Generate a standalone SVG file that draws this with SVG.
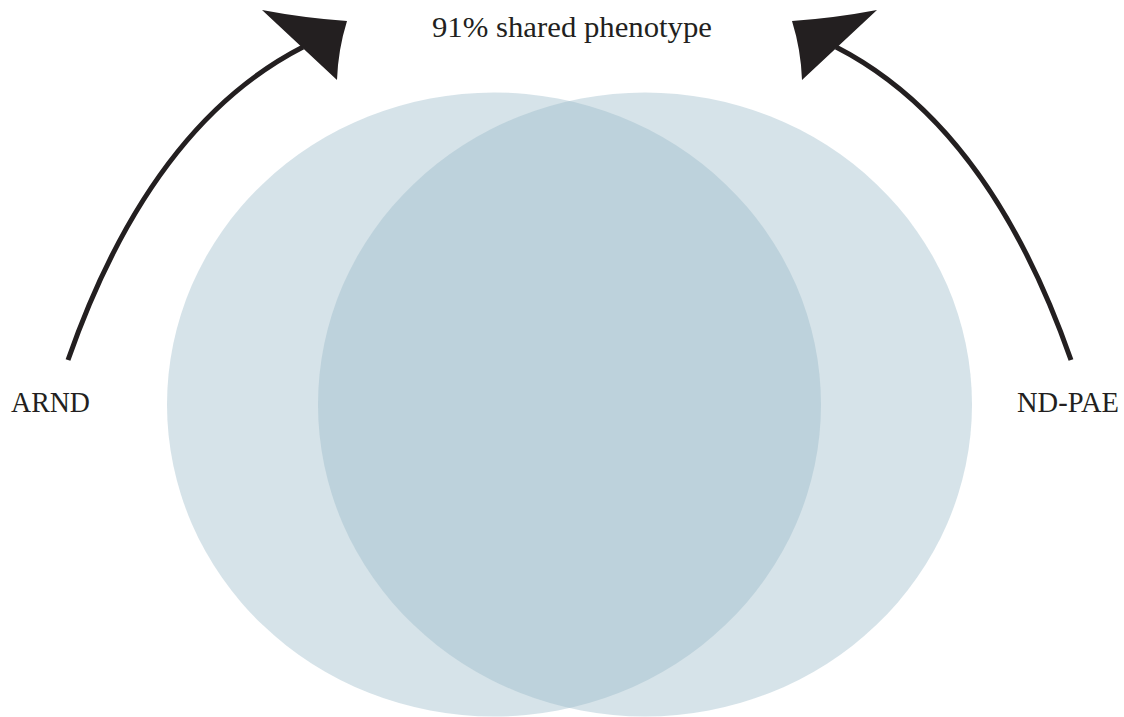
<svg xmlns="http://www.w3.org/2000/svg" width="1124" height="717" viewBox="0 0 1124 717">
  <style>
    .set { fill: #98b9c8; fill-opacity: 0.4; }
    .lbl { font-family: "Liberation Serif", "DejaVu Serif", serif; font-size: 29px; fill: #231f20; }
    .shaft { fill: none; stroke: #231f20; stroke-width: 5; }
    .head { fill: #231f20; }
  </style>
  <defs>
    <g id="arrow">
      <path class="shaft" d="M68,360 C110,240 180,110 303,47"/>
      <path class="head" d="M262,10 Q304,18 347,21 Q338,50 337,80 Z"/>
    </g>
  </defs>
  <rect width="1124" height="717" fill="#ffffff"/>
  <g id="set-arnd">
    <ellipse class="set" cx="494" cy="404.5" rx="327" ry="312"/>
  </g>
  <g id="set-ndpae">
    <ellipse class="set" cx="645" cy="404.5" rx="327" ry="312"/>
  </g>
  <g id="connectors">
    <use href="#arrow"/>
    <use href="#arrow" transform="translate(1139,0) scale(-1,1)"/>
  </g>
  <g id="label-shared">
    <text class="lbl" x="432" y="37" textLength="280" lengthAdjust="spacingAndGlyphs">91% shared phenotype</text>
  </g>
  <g id="label-arnd">
    <text class="lbl" x="11" y="412" textLength="79" lengthAdjust="spacingAndGlyphs">ARND</text>
  </g>
  <g id="label-ndpae">
    <text class="lbl" x="1017" y="412" textLength="102" lengthAdjust="spacingAndGlyphs">ND-PAE</text>
  </g>
</svg>
